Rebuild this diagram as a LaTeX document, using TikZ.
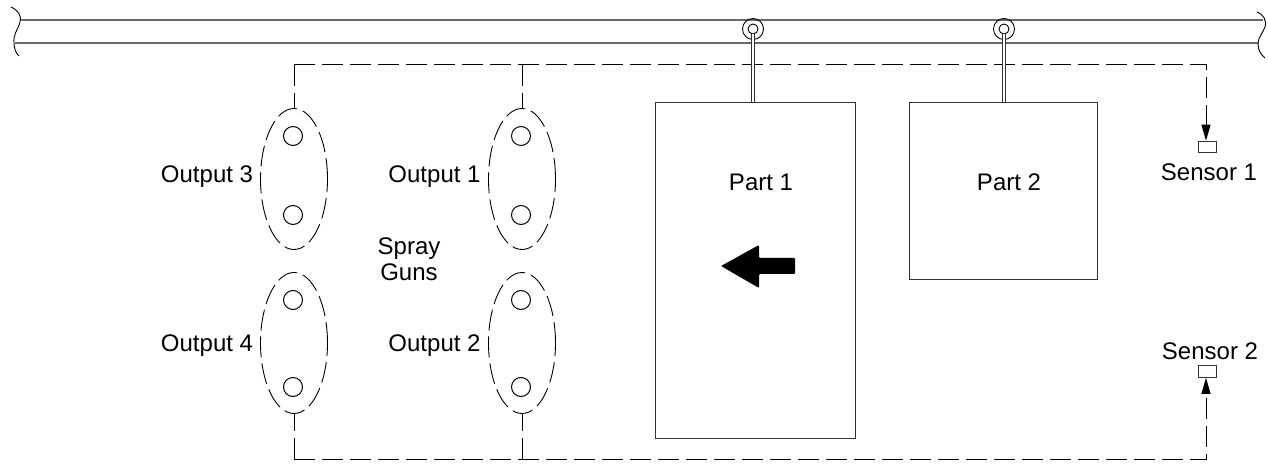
\documentclass[tikz,border=0pt]{standalone}
\usepackage{fontspec}
\setmainfont{Liberation Sans}
\usepackage{xcolor}
\definecolor{railgray}{RGB}{105,105,105}
\definecolor{linegray}{RGB}{50,50,50}
\usetikzlibrary{arrows.meta, shapes.geometric}

\tikzset{
  railline/.style={railgray, line width=0.8pt},
  breakline/.style={black, line width=0.45pt},
  signalline/.style={black, line width=0.5pt, dash pattern=on 10.5pt off 3.5pt},
  gunzone/.style={ellipse, draw, black, line width=0.45pt, dash pattern=on 10.5pt off 3pt,
    minimum width=33.5pt, minimum height=70.5pt, inner sep=0pt},
  gunhead/.style={circle, draw, black, line width=0.5pt, minimum size=9.5pt, inner sep=0pt},
  partbox/.style={rectangle, draw=linegray, line width=0.5pt, inner sep=0pt},
  sensorbox/.style={rectangle, draw=linegray, line width=0.5pt, minimum width=9pt, minimum height=5.8pt, inner sep=0pt},
  hookring/.style={circle, draw, black, line width=0.45pt, inner sep=0pt},
  hangerline/.style={linegray, line width=0.5pt, double=white, double distance=1pt},
  sensortip/.style={-{Stealth[length=8pt, width=4.5pt, inset=0pt]}},
  label/.style={font=\fontsize{12}{13}\selectfont, anchor=base, inner sep=0pt, align=center},
}

\begin{document}
\begin{tikzpicture}[x=0.5pt, y=-0.5pt]
  \useasboundingbox (0,0) rectangle (1268,464);

  % Rail
  \draw[railline] (20,20) -- (1263,20);
  \draw[railline] (15,43) -- (1258,43);

  % Rail break marks
  \draw[breakline] (11,7) .. controls (18,10) and (22,16) .. (20,22)
     .. controls (18,30) and (13,34) .. (14,43) .. controls (14,49) and (16,53) .. (19,56);
  \draw[breakline] (1257,12) .. controls (1263,14) and (1267,20) .. (1265,27)
     .. controls (1263,33) and (1258,37) .. (1258,44) .. controls (1258,50) and (1261,55) .. (1265,58);

  % Parts
  \node[partbox, minimum width=100pt, minimum height=167.5pt] (part1) at (755,270.5) {};
  \node[partbox, minimum width=94pt, minimum height=88.5pt] (part2) at (1003,191.5) {};
  \node[label] (part1text) at (761,191) {Part 1};
  \node[label] (part2text) at (1009,191) {Part 2};

  % Hooks on the rail
  \node[hookring, minimum size=10.5pt] (hook1) at (753,29) {};
  \node[hookring, minimum size=5pt, fill=white] (eye1) at (753,29) {};
  \node[hookring, minimum size=10.5pt] (hook2) at (1004,29) {};
  \node[hookring, minimum size=5pt, fill=white] (eye2) at (1004,29) {};

  % Direction of travel
  \fill[black, rounded corners=0.5pt] (721,266) -- (759,245) -- (759,258) -- (795,258)
     -- (795,274) -- (759,274) -- (759,288) -- cycle;

  % Spray gun zones
  \node[gunzone] (zone3) at (294,179) {};
  \node[gunzone] (zone1) at (522,179) {};
  \node[gunzone] (zone4) at (294,343) {};
  \node[gunzone] (zone2) at (522,343) {};

  % Gun heads
  \node[gunhead] (gun3a) at (293,136) {};
  \node[gunhead] (gun3b) at (293,215) {};
  \node[gunhead] (gun1a) at (521,136) {};
  \node[gunhead] (gun1b) at (521,215) {};
  \node[gunhead] (gun4a) at (293,300) {};
  \node[gunhead] (gun4b) at (293,387) {};
  \node[gunhead] (gun2a) at (521,300) {};
  \node[gunhead] (gun2b) at (521,387) {};

  % Sensors
  \node[sensorbox] (sensor1) at (1207.5,147) {};
  \node[sensorbox] (sensor2) at (1207.5,371.5) {};

  % Signal line corners
  \coordinate (topleft) at (294,65);
  \coordinate (topmid) at (522,65);
  \coordinate (topright) at (1206,65);
  \coordinate (botleft) at (294,459);
  \coordinate (botmid) at (522,459);
  \coordinate (botright) at (1206,459);

  % Signal lines
  \draw[signalline, sensortip] (topleft) -- (topright) -- (topright |- sensor1.north);
  \draw[signalline] (topleft) -- (zone3.north);
  \draw[signalline] (topmid) -- (zone1.north);
  \draw[signalline, sensortip] (botleft) -- (botright) -- (botright |- sensor2.south);
  \draw[signalline] (botleft) -- (zone4.south);
  \draw[signalline] (botmid) -- (zone2.south);

  % Hangers
  \draw[hangerline] (eye1.south) -- (eye1.south |- part1.north);
  \draw[hangerline] (eye2.south) -- (eye2.south |- part2.north);

  % Labels
  \node[label] (output3) at (207,183) {Output 3};
  \node[label] (output1) at (434.5,183) {Output 1};
  \node[label] (output4) at (207,352) {Output 4};
  \node[label] (output2) at (434.5,352) {Output 2};
  \node[label] (spray) at (409,255) {Spray};
  \node[label] (guns) at (409,281) {Guns};
  \node[label] (sensor1text) at (1209,181) {Sensor 1};
  \node[label] (sensor2text) at (1210,359) {Sensor 2};
\end{tikzpicture}
\end{document}
